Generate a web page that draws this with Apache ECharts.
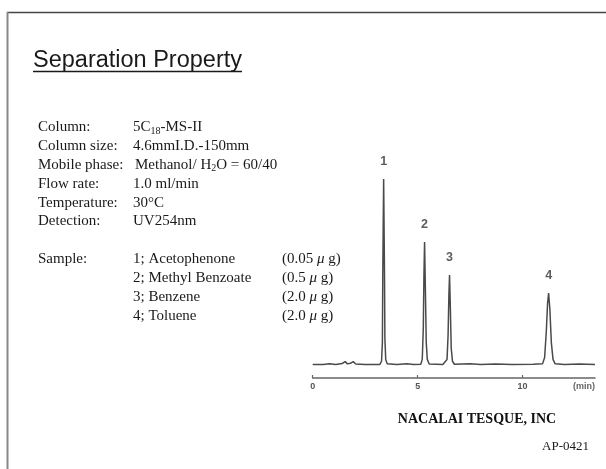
<!DOCTYPE html>
<html>
<head>
<meta charset="utf-8">
<script src="https://cdn.jsdelivr.net/npm/echarts@6/dist/echarts.min.js"></script>
<style>
html,body{margin:0;padding:0;background:#fff;}
#chart{width:606px;height:469px;}
</style>
</head>
<body>
<div id="chart"></div>
<script>
// ---- data ----
const titleText = 'Separation Property';
const conditionLabels = ['Column:', 'Column size:', 'Mobile phase:', 'Flow rate:', 'Temperature:', 'Detection:'];
const conditionValues = ['5C{sub|18}-MS-II', '4.6mmI.D.-150mm', 'Methanol/ H{sub|2}O = 60/40', '1.0 ml/min', '30°C', 'UV254nm'];
const sampleLabel = 'Sample:';
const sampleNames = ['1; Acetophenone', '2; Methyl Benzoate', '3; Benzene', '4; Toluene'];
const sampleAmounts = ['(0.05 {mu|μ} g)', '(0.5 {mu|μ} g)', '(2.0 {mu|μ} g)', '(2.0 {mu|μ} g)'];
const peakLabels = ['1', '2', '3', '4'];
const peakTimes = [3.38, 5.33, 6.52, 11.24];
const peakHeights = [100, 66.1, 48.4, 38.7];
const xTicks = [0, 5, 10];
const xUnit = '(min)';
const company = 'NACALAI TESQUE, INC';
const docCode = 'AP-0421';
// chromatogram trace: [time (min), signal]
const traceTime = [0.0,0.5,0.8,1.1,1.4,1.55,1.65,1.8,1.93,2.05,2.5,3.0,3.2,3.28,3.32,3.34,3.38,3.42,3.44,3.48,3.55,4.0,4.5,4.8,5.15,5.22,5.27,5.30,5.33,5.37,5.41,5.46,5.55,6.2,6.40,6.45,6.49,6.52,6.56,6.60,6.66,6.75,7.5,8.0,8.7,9.5,10.5,10.95,11.05,11.13,11.19,11.24,11.30,11.37,11.45,11.55,12.0,12.7,13.45];
const traceSignal = [0.3,0.2,0.6,0.3,0.8,1.8,0.6,0.9,1.8,0.5,0.3,0.2,0.3,2,12,50,100,50,14,3,0.6,0.2,0.6,0.3,0.4,3,20,48,66.1,40,12,3,0.5,0.3,3,16,38,48.4,30,9,2,0.4,0.6,0.3,0.5,0.2,0.4,0.6,4,18,33,38.7,30,12,3,0.6,0.3,0.5,0.3];

// ---- chart ----
const chart = echarts.init(document.getElementById('chart'), null, {renderer: 'canvas'});
const trace = traceTime.map((t, i) => [t, traceSignal[i]]);
const peaks = peakTimes.map((t, i) => ({value: [t, peakHeights[i]], name: peakLabels[i]}));

const serif = '"Liberation Serif", "Times New Roman", serif';
const sans = '"Liberation Sans", Arial, sans-serif';
const bodyRich = {
  sub: {fontFamily: serif, fontSize: 10, lineHeight: 10, verticalAlign: 'bottom', fill: '#1a1a1a'},
  mu: {fontFamily: serif, fontSize: 15, fontStyle: 'italic', fill: '#1a1a1a'}
};
const rowY0 = 127, rowStep = 18.9;
const graphics = [];
// frame
graphics.push({type: 'line', shape: {x1: 7, y1: 12.5, x2: 606, y2: 12.5}, style: {stroke: '#444', lineWidth: 1.5}, silent: true});
graphics.push({type: 'line', shape: {x1: 7.5, y1: 12, x2: 7.5, y2: 469}, style: {stroke: '#888', lineWidth: 2}, silent: true});
// title
graphics.push({type: 'text', x: 33, y: 61, style: {text: titleText, font: '23.5px ' + sans, fill: '#1a1a1a', textVerticalAlign: 'middle'}});
graphics.push({type: 'line', shape: {x1: 33, y1: 71.5, x2: 242, y2: 71.5}, style: {stroke: '#1a1a1a', lineWidth: 1.7}});
conditionLabels.forEach((lab, i) => {
  const y = rowY0 + i * rowStep;
  graphics.push({type: 'text', x: 38, y: y, style: {text: lab, font: '15px ' + serif, fill: '#1a1a1a', textVerticalAlign: 'middle'}});
  graphics.push({type: 'text', x: i === 2 ? 135 : 133, y: y, style: {text: conditionValues[i], font: '15px ' + serif, fill: '#1a1a1a', textVerticalAlign: 'middle', lineHeight: 18, rich: bodyRich}});
});
const sampleY0 = 259;
graphics.push({type: 'text', x: 38, y: sampleY0, style: {text: sampleLabel, font: '15px ' + serif, fill: '#1a1a1a', textVerticalAlign: 'middle'}});
sampleNames.forEach((nm, i) => {
  const y = sampleY0 + i * rowStep;
  graphics.push({type: 'text', x: 133, y: y, style: {text: nm, font: '15px ' + serif, fill: '#1a1a1a', textVerticalAlign: 'middle'}});
  graphics.push({type: 'text', x: 282, y: y, style: {text: sampleAmounts[i], font: '15px ' + serif, fill: '#1a1a1a', textVerticalAlign: 'middle', rich: bodyRich}});
});
graphics.push({type: 'text', x: 477, y: 419, style: {text: company, font: 'bold 14px ' + serif, fill: '#111', textAlign: 'center', textVerticalAlign: 'middle'}});
graphics.push({type: 'text', x: 589, y: 447, style: {text: docCode, font: '13px ' + serif, fill: '#1a1a1a', textAlign: 'right', textVerticalAlign: 'middle'}});

chart.setOption({
  animation: false,
  backgroundColor: '#fff',
  grid: {left: 312.7, right: 11, top: 179, bottom: 91, containLabel: false},
  xAxis: {
    type: 'value', min: 0, max: 13.45, interval: 5,
    axisLine: {onZero: false, lineStyle: {color: '#666', width: 1.5}},
    axisTick: {inside: true, length: 3, lineStyle: {color: '#666', width: 1.2}},
    axisLabel: {color: '#555', fontFamily: sans, fontWeight: 'bold', fontSize: 9, margin: 4, showMaxLabel: false,
      formatter: v => xTicks.indexOf(v) >= 0 ? String(v) : ''},
    splitLine: {show: false},
    name: xUnit, nameLocation: 'end', nameGap: 0,
    nameTextStyle: {color: '#666', fontFamily: sans, fontWeight: 'bold', fontSize: 9, align: 'right', verticalAlign: 'top', padding: [4, 0, 0, 0]}
  },
  yAxis: {type: 'value', min: -7, max: 100, show: false, splitLine: {show: false}},
  series: [
    {type: 'line', data: trace, symbol: 'none', smooth: false,
      lineStyle: {color: '#4a4a4a', width: 1.5}},
    {type: 'scatter', data: peaks, symbolSize: 0,
      label: {show: true, position: 'top', distance: 11, formatter: p => p.name,
        fontFamily: sans, fontWeight: 'bold', fontSize: 12.5, color: '#333'}}
  ],
  graphic: graphics
});
</script>
</body>
</html>
